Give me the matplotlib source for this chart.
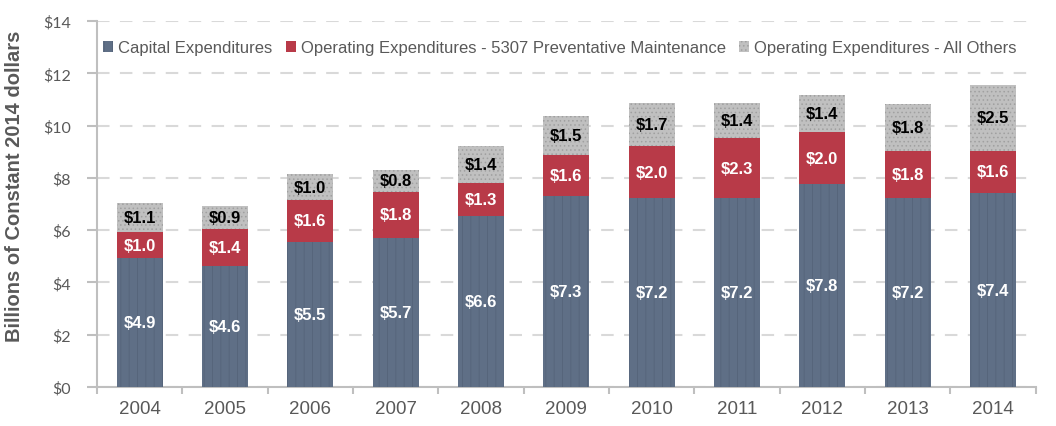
import matplotlib
matplotlib.use("Agg")
import matplotlib.pyplot as plt
import numpy as np

# data (billions of constant 2014 dollars)
years = ["2004", "2005", "2006", "2007", "2008", "2009", "2010", "2011", "2012", "2013", "2014"]
capital = [4.93, 4.64, 5.55, 5.70, 6.56, 7.30, 7.23, 7.23, 7.76, 7.23, 7.42]
preventive = [1.00, 1.40, 1.60, 1.76, 1.26, 1.58, 1.98, 2.28, 1.99, 1.80, 1.61]
others = [1.10, 0.87, 1.00, 0.84, 1.38, 1.49, 1.66, 1.36, 1.41, 1.80, 2.52]
series_names = ["Capital Expenditures",
                "Operating Expenditures - 5307 Preventative Maintenance",
                "Operating Expenditures - All Others"]

c_cap = "#5f6f86"
c_red = "#b83a48"
c_gray = "#c0c0c0"
txt_gray = "#595959"

plt.rcParams['font.family'] = ['Liberation Sans', 'DejaVu Sans']
plt.rcParams['hatch.linewidth'] = 0.6

fig = plt.figure(figsize=(10.56, 4.27), dpi=100)
ax = fig.add_axes([0.0919, 0.0913, 0.8888, 0.8572])

x = np.arange(len(years))
w = 0.54
cap = np.array(capital)
prev = np.array(preventive)
oth = np.array(others)

b1 = ax.bar(x, cap, w, color=c_cap, hatch="||", edgecolor="#55647a", linewidth=0, label=series_names[0], zorder=3)
b2 = ax.bar(x, prev, w, bottom=cap, color=c_red, linewidth=0, label=series_names[1], zorder=3)
b3 = ax.bar(x, oth, w, bottom=cap + prev, color=c_gray, hatch="....", edgecolor="#a0a0a0",
            linewidth=0, label=series_names[2], zorder=3)

# value labels
for i in range(len(years)):
    ax.text(x[i], cap[i] / 2, f"${cap[i]:.1f}", ha="center", va="center",
            color="white", fontsize=12, fontweight="bold", zorder=4)
    ax.text(x[i], cap[i] + prev[i] / 2, f"${prev[i]:.1f}", ha="center", va="center",
            color="white", fontsize=12, fontweight="bold", zorder=4)
    ax.text(x[i], cap[i] + prev[i] + oth[i] / 2, f"${oth[i]:.1f}", ha="center", va="center",
            color="black", fontsize=12, fontweight="bold", zorder=4)

ax.set_xlim(-0.5, len(years) - 0.5)
ax.set_ylim(0, 14)
ax.set_yticks(np.arange(0, 15, 2))
ax.set_yticklabels([f"${v}" for v in range(0, 15, 2)], fontfamily="Lato", fontsize=11.5, color=txt_gray)
ax.set_xticks(x)
ax.set_xticklabels(years, fontsize=13.5, color=txt_gray)
ax.tick_params(axis="x", length=0, pad=9)
ax.set_xticks(np.arange(-0.5, len(years)), minor=True)
ax.tick_params(axis="x", which="minor", length=5, color="#bfbfbf", width=1.5)
ax.tick_params(axis="y", length=7, color="#bfbfbf", width=1.5, pad=12)

ax.grid(axis="y", color="#d9d9d9", linestyle=(0, (6, 5)), linewidth=1.5, zorder=0)
for s in ["top", "right"]:
    ax.spines[s].set_visible(False)
ax.spines["left"].set_color("#bfbfbf")
ax.spines["left"].set_linewidth(1.5)
ax.spines["bottom"].set_color("#bfbfbf")
ax.spines["bottom"].set_linewidth(1.5)

ax.set_ylabel("Billions of Constant 2014 dollars", fontsize=14.5, fontweight="bold", color=txt_gray)
ax.yaxis.set_label_coords(-0.078, 0.552)

leg = ax.legend(loc="upper left", bbox_to_anchor=(-0.004, 0.975), ncol=3, frameon=False,
                fontsize=12, handlelength=0.6, handleheight=0.6, handletextpad=0.3,
                columnspacing=0.8, borderaxespad=0.2)
for t in leg.get_texts():
    t.set_color(txt_gray)

fig.savefig("out.png", dpi=100)
